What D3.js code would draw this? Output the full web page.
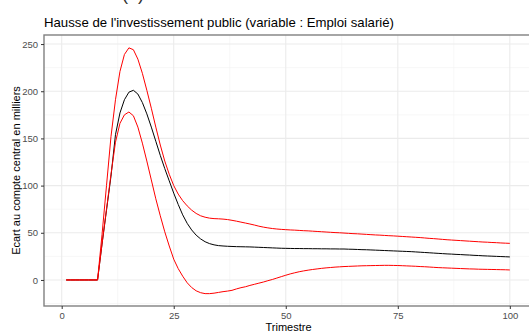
<!DOCTYPE html>
<html>
<head>
<meta charset="utf-8">
<script src="https://cdn.jsdelivr.net/npm/d3@7"></script>
<style>
  html, body { margin: 0; padding: 0; background: #fff; }
  svg { display: block; }
</style>
</head>
<body>
<svg id="chart" width="529" height="334"></svg>
<script>
// ---- Data ----
const trimestres = d3.range(1, 101);

const central = [
  0,0,0,0,0,0,0,0,38,74,
  110,154,177,191,199,201,197,188,176,162,
  147,132,118,105,92,80,69,60,53,47.5,
  43.5,40.5,38.5,37.2,36.4,36,35.7,35.5,35.3,35.2,
  35.1,35,34.8,34.6,34.4,34.2,34,33.8,33.6,33.5,
  33.4,33.3,33.3,33.2,33.2,33.1,33.1,33,33,32.9,
  32.9,32.8,32.8,32.6,32.5,32.3,32.1,32,31.8,31.6,
  31.4,31.2,31,30.8,30.6,30.4,30.2,30,29.7,29.4,
  29.1,28.8,28.5,28.2,27.9,27.6,27.4,27.1,26.9,26.6,
  26.4,26.1,25.9,25.6,25.4,25.2,25,24.8,24.6,24.4
];

const borneHaute = [
  0,0,0,0,0,0,0,0,48,100,
  152,191,221,239,246,244,234,219,201,182,
  162,143,126,112,100,91,84,78.5,74,70.5,
  68,66.5,65.5,65,64.8,64.5,64,63.2,62.3,61.3,
  60.3,59.3,58.2,57,56,55.2,54.5,54,53.6,53.3,
  53,52.8,52.5,52.2,52,51.7,51.4,51.1,50.8,50.5,
  50.2,50,49.7,49.4,49.1,48.9,48.6,48.3,48,47.7,
  47.5,47.2,46.9,46.7,46.4,46.1,45.8,45.5,45.2,44.9,
  44.5,44.1,43.8,43.4,43,42.6,42.3,42,41.7,41.4,
  41.1,40.8,40.5,40.2,40,39.7,39.5,39.2,39,38.8
];

const borneBasse = [
  0,0,0,0,0,0,0,0,38,75,
  112,146,166,175,178,174,162,145,126,106,
  86,68,51,36,22,12,4,-3,-8,-11.5,
  -13.5,-14.5,-14.5,-14,-13.2,-12.4,-11.8,-11,-9.5,-8.2,
  -7.2,-5.8,-4.6,-3.4,-2.2,-0.8,0.5,2,3.5,5,
  6.4,7.6,8.7,9.6,10.4,11.1,11.7,12.3,12.8,13.2,
  13.6,13.9,14.2,14.4,14.6,14.8,15,15.1,15.2,15.3,
  15.4,15.5,15.5,15.4,15.3,15.1,14.9,14.7,14.5,14.2,
  14,13.7,13.4,13.1,12.9,12.7,12.5,12.3,12.1,11.9,
  11.7,11.6,11.4,11.3,11.2,11.1,11,10.9,10.8,10.6
];

const xTicks = [0, 25, 50, 75, 100];
const xMinor = [12.5, 37.5, 62.5, 87.5];
const yTicks = [0, 50, 100, 150, 200, 250];
const yMinor = [-25, 25, 75, 125, 175, 225];

const titre = "Hausse de l'investissement public (variable : Emploi salarié)";
const titreX = "Trimestre";
const titreY = "Ecart au compte central en milliers";

// ---- Layout ----
const svg = d3.select("#chart");
const font = "'Liberation Sans', Arial, sans-serif";
const panel = { left: 44, top: 35, right: 532, bottom: 306 };

const x = d3.scaleLinear().domain([-3.95, 104.95]).range([panel.left, panel.right]);
const y = d3.scaleLinear().domain([-27.6, 259.6]).range([panel.bottom, panel.top]);

// cropped text at very top (only the bottom of the glyphs is visible)
svg.append("text")
  .attr("x", 122).attr("y", -0.5)
  .attr("font-family", font).attr("font-size", 18)
  .attr("fill", "#333")
  .text("(b)");

// clip
svg.append("defs").append("clipPath").attr("id", "clip")
  .append("rect")
  .attr("x", panel.left).attr("y", panel.top)
  .attr("width", panel.right - panel.left).attr("height", panel.bottom - panel.top);

const g = svg.append("g");

// grid minor
g.selectAll(".xminor").data(xMinor).join("line")
  .attr("x1", d => x(d)).attr("x2", d => x(d))
  .attr("y1", panel.top).attr("y2", panel.bottom)
  .attr("stroke", "#F2F2F2").attr("stroke-width", 0.6);
g.selectAll(".yminor").data(yMinor).join("line")
  .attr("y1", d => y(d)).attr("y2", d => y(d))
  .attr("x1", panel.left).attr("x2", panel.right)
  .attr("stroke", "#F2F2F2").attr("stroke-width", 0.6);
// grid major
g.selectAll(".xmajor").data(xTicks).join("line")
  .attr("x1", d => x(d)).attr("x2", d => x(d))
  .attr("y1", panel.top).attr("y2", panel.bottom)
  .attr("stroke", "#EBEBEB").attr("stroke-width", 1.1);
g.selectAll(".ymajor").data(yTicks).join("line")
  .attr("y1", d => y(d)).attr("y2", d => y(d))
  .attr("x1", panel.left).attr("x2", panel.right)
  .attr("stroke", "#EBEBEB").attr("stroke-width", 1.1);

// lines
const line = d3.line().x((d, i) => x(trimestres[i])).y(d => y(d));
const lines = svg.append("g").attr("clip-path", "url(#clip)");
lines.append("path").datum(central)
  .attr("d", line).attr("fill", "none").attr("stroke", "#000").attr("stroke-width", 1);
lines.append("path").datum(borneHaute)
  .attr("d", line).attr("fill", "none").attr("stroke", "#FF0000").attr("stroke-width", 1);
lines.append("path").datum(borneBasse)
  .attr("d", line).attr("fill", "none").attr("stroke", "#FF0000").attr("stroke-width", 1);

// panel border
svg.append("rect")
  .attr("x", panel.left).attr("y", panel.top)
  .attr("width", panel.right - panel.left).attr("height", panel.bottom - panel.top)
  .attr("fill", "none").attr("stroke", "#808080").attr("stroke-width", 1.4);

// axes
const xAxis = d3.axisBottom(x).tickValues(xTicks).tickSize(3).tickPadding(3).tickFormat(d3.format("d"));
const yAxis = d3.axisLeft(y).tickValues(yTicks).tickSize(3).tickPadding(3).tickFormat(d3.format("d"));

const gx = svg.append("g").attr("transform", `translate(0,${panel.bottom})`).call(xAxis);
const gy = svg.append("g").attr("transform", `translate(${panel.left},0)`).call(yAxis);
[gx, gy].forEach(a => {
  a.select(".domain").remove();
  a.selectAll(".tick line").attr("stroke", "#333").attr("stroke-width", 1);
  a.selectAll(".tick text").attr("fill", "#4D4D4D").attr("font-family", font).attr("font-size", 9.5);
});

// titles
svg.append("text")
  .attr("x", panel.left).attr("y", 27)
  .attr("font-family", font).attr("font-size", 13.2).attr("fill", "#000")
  .text(titre);
svg.append("text")
  .attr("x", (panel.left + 529) / 2 + 2).attr("y", 331)
  .attr("text-anchor", "middle")
  .attr("font-family", font).attr("font-size", 11).attr("fill", "#000")
  .text(titreX);
svg.append("text")
  .attr("transform", `translate(20,${(panel.top + panel.bottom) / 2}) rotate(-90)`)
  .attr("text-anchor", "middle")
  .attr("font-family", font).attr("font-size", 11).attr("fill", "#000")
  .text(titreY);
</script>
</body>
</html>
